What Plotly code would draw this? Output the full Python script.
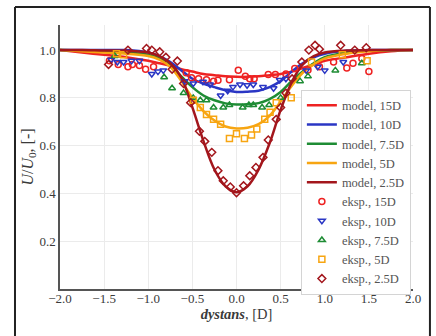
import plotly.graph_objects as go

# model curves
x_model = [-2.0, -1.75, -1.5, -1.25, -1.0, -0.875, -0.75, -0.625, -0.5, -0.375, -0.25, -0.125, 0.0,
           0.125, 0.25, 0.375, 0.5, 0.625, 0.75, 0.875, 1.0, 1.25, 1.5, 1.75, 2.0]
m15 = [1.0, 0.99, 0.98, 0.97, 0.955, 0.945, 0.935, 0.92, 0.91, 0.90, 0.895, 0.89, 0.888,
       0.888, 0.89, 0.895, 0.90, 0.91, 0.925, 0.94, 0.955, 0.97, 0.985, 0.995, 1.0]
m10 = [1.0, 1.0, 1.0, 1.0, 0.99, 0.975, 0.95, 0.915, 0.88, 0.86, 0.845, 0.832, 0.825,
       0.826, 0.83, 0.845, 0.87, 0.91, 0.945, 0.97, 0.985, 0.997, 1.0, 1.0, 1.0]
m75 = [1.0, 0.998, 0.995, 0.99, 0.98, 0.965, 0.935, 0.89, 0.845, 0.81, 0.79, 0.777, 0.772,
       0.773, 0.778, 0.795, 0.825, 0.87, 0.91, 0.945, 0.97, 0.99, 0.998, 1.0, 1.0]
m5 = [1.0, 0.995, 0.99, 0.985, 0.975, 0.96, 0.93, 0.87, 0.80, 0.745, 0.705, 0.68, 0.672,
      0.675, 0.69, 0.725, 0.785, 0.85, 0.905, 0.94, 0.965, 0.985, 0.995, 1.0, 1.0]
m25 = [1.0, 1.0, 0.998, 0.997, 0.99, 0.975, 0.945, 0.885, 0.76, 0.62, 0.50, 0.43, 0.405,
       0.43, 0.50, 0.61, 0.75, 0.865, 0.94, 0.975, 0.99, 0.998, 1.0, 1.0, 1.0]

# experimental points
x15 = [-1.44, -1.34, -1.23, -1.18, -1.10, -1.03, -0.94, -0.57, -0.51, -0.43, -0.34, -0.26, -0.21, -0.08,
       0.02, 0.10, 0.15, 0.20, 0.36, 0.44, 0.56, 0.66, 0.81, 0.94, 1.10, 1.25, 1.32, 1.42, 1.50]
y15 = [0.955, 0.94, 0.93, 0.94, 0.935, 0.92, 0.93, 0.905, 0.884, 0.88, 0.876, 0.87, 0.874, 0.876,
       0.916, 0.89, 0.88, 0.88, 0.898, 0.898, 0.90, 0.923, 0.917, 0.93, 0.95, 0.925, 0.945, 0.965, 0.91]
x10 = [-1.42, -1.35, -1.28, -1.19, -1.10, -0.96, -0.89, -0.83, -0.59, -0.49, -0.38, -0.30, -0.18, -0.10,
       -0.04, 0.04, 0.12, 0.19, 0.30, 0.42, 0.49, 0.56, 0.79, 0.92, 1.00, 1.21]
y10 = [0.96, 0.95, 0.95, 0.955, 0.955, 0.90, 0.91, 0.915, 0.87, 0.86, 0.867, 0.856, 0.81, 0.83,
       0.846, 0.856, 0.853, 0.856, 0.845, 0.84, 0.875, 0.88, 0.915, 0.93, 0.915, 0.95]
x75 = [-1.38, -0.82, -0.73, -0.60, -0.49, -0.41, -0.34, -0.26, -0.15, -0.08, 0.07, 0.14, 0.19, 0.29,
       0.37, 0.50, 0.72, 0.81, 1.12, 1.42]
y75 = [0.975, 0.886, 0.84, 0.82, 0.80, 0.79, 0.79, 0.76, 0.76, 0.77, 0.76, 0.77, 0.77, 0.76,
       0.77, 0.80, 0.87, 0.89, 0.915, 0.945]
x5 = [-1.36, -1.28, -0.49, -0.41, -0.34, -0.26, -0.18, -0.08, 0.0, 0.09, 0.17, 0.23, 0.32, 0.38,
      0.45, 0.62, 0.85, 1.20, 1.48]
y5 = [0.985, 0.98, 0.79, 0.76, 0.73, 0.71, 0.69, 0.63, 0.65, 0.63, 0.645, 0.67, 0.71, 0.74,
      0.78, 0.80, 0.95, 0.98, 0.955]
x25 = [-1.45, -1.23, -1.02, -0.96, -0.87, -0.80, -0.73, -0.67, -0.60, -0.52, -0.42, -0.36, -0.28,
       -0.21, -0.15, -0.07, 0.0, 0.08, 0.15, 0.22, 0.30, 0.36, 0.45, 0.50, 0.56, 0.63, 0.74, 0.82,
       0.89, 0.94, 1.18, 1.34, 1.47]
y25 = [0.94, 1.0, 1.007, 1.0, 0.993, 0.97, 0.92, 0.954, 0.86, 0.78, 0.66, 0.618, 0.572,
       0.495, 0.453, 0.427, 0.403, 0.432, 0.474, 0.509, 0.551, 0.624, 0.71, 0.76, 0.82, 0.88, 0.95, 1.0,
       1.02, 1.004, 1.02, 1.0, 1.01]

x_ticks = [-2.0, -1.5, -1.0, -0.5, 0.0, 0.5, 1.0, 1.5, 2.0]
x_tick_text = ["\u22122.0", "\u22121.5", "\u22121.0", "\u22120.5", "0.0", "0.5", "1.0", "1.5", "2.0"]
y_ticks = [0.2, 0.4, 0.6, 0.8, 1.0]
y_tick_text = ["0.2", "0.4", "0.6", "0.8", "1.0"]

labels = ["15D", "10D", "7.5D", "5D", "2.5D"]
colors = ["#ee2222", "#2a36c4", "#1e8c34", "#f7a511", "#a3161c"]
models = [m15, m10, m75, m5, m25]
exps = [(x15, y15, "circle-open"), (x10, y10, "triangle-down-open"), (x75, y75, "triangle-up-open"),
        (x5, y5, "square-open"), (x25, y25, "diamond-open")]

fig = go.Figure()
for lab, col, m in zip(labels, colors, models):
    fig.add_trace(go.Scatter(x=x_model, y=m, mode="lines", line=dict(color=col, width=2.5, shape="spline"),
                             name="model, " + lab))
for lab, col, (ex, ey, sym) in zip(labels, colors, exps):
    fig.add_trace(go.Scatter(x=ex, y=ey, mode="markers", name="eksp., " + lab,
                             marker=dict(symbol=sym, color=col, size=6, line=dict(width=1.5, color=col))))

font_family = "'Liberation Serif', 'DejaVu Serif', serif"
fig.update_layout(
    width=436, height=336,
    margin=dict(l=60, r=23, t=25, b=47),
    paper_bgcolor="white", plot_bgcolor="white",
    font=dict(family=font_family, size=13, color="#3a3a3a"),
    showlegend=True,
    legend=dict(x=0.994, y=0.755, xanchor="right", yanchor="top", bgcolor="white",
                bordercolor="#d4d4d4", borderwidth=1, font=dict(size=12.5, color="#555555"),
                tracegroupgap=0),
    xaxis=dict(range=[-2.0, 2.0], tickvals=x_ticks, ticktext=x_tick_text, showgrid=True,
               gridcolor="#ebebeb", zeroline=False, showline=True, linecolor="#555555", linewidth=1.5,
               ticks="", ticklabelstandoff=-3,
               title=dict(text="<i><b>dystans</b></i>, [D]", standoff=2, font=dict(size=14.5))),
    yaxis=dict(range=[0.0, 1.105], tickvals=y_ticks, ticktext=y_tick_text, showgrid=True,
               gridcolor="#ebebeb", zeroline=False, showline=True, linecolor="#555555", linewidth=1.5,
               ticks="", title=dict(text="<i>U</i>/<i>U</i><sub>0</sub>, [-]", standoff=2, font=dict(size=16))),
    shapes=[
        dict(type="line", xref="paper", yref="paper", x0=-0.1275, x1=-0.1275, y0=-0.2, y1=1.068,
             line=dict(color="#222222", width=2)),
        dict(type="line", xref="paper", yref="paper", x0=1.048, x1=1.048, y0=-0.2, y1=1.068,
             line=dict(color="#222222", width=2)),
        dict(type="line", xref="paper", yref="paper", x0=-0.1275, x1=1.048, y0=1.068, y1=1.068,
             line=dict(color="#222222", width=2)),
    ],
)
fig.write_html("out.html", config={"displayModeBar": False},
               post_script="document.body.style.margin='0px';")
